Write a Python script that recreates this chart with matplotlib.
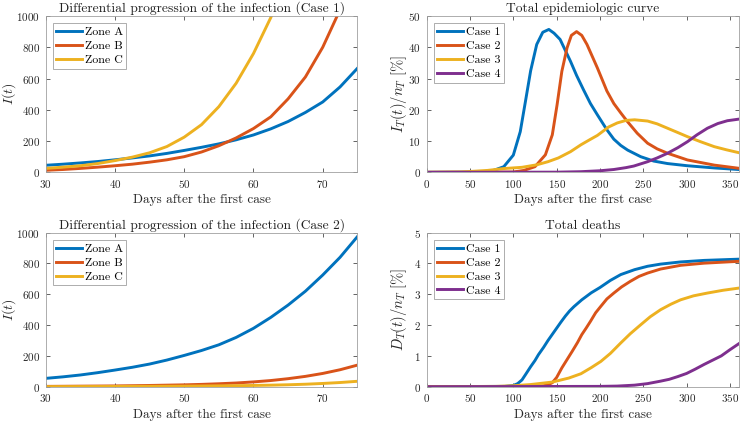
import numpy as np
import matplotlib
matplotlib.use("Agg")
import matplotlib.pyplot as plt

plt.rcParams['font.family'] = 'cmr10'
plt.rcParams['mathtext.fontset'] = 'cm'
plt.rcParams['axes.formatter.use_mathtext'] = True

# MATLAB default colours
colors = ['#0072BD', '#D95319', '#EDB120', '#7E2F8E']

zone_labels = ['Zone A', 'Zone B', 'Zone C']
case_labels = ['Case 1', 'Case 2', 'Case 3', 'Case 4']

# --- infected per zone, days 30-75 (read every 2.5 days) ---
zone_days = [30, 32.5, 35, 37.5, 40, 42.5, 45, 47.5, 50, 52.5, 55, 57.5, 60, 62.5, 65, 67.5, 70, 72.5, 75]

# Case 1
c1_a_vals = [45, 52, 60, 69, 80, 92, 105, 121, 140, 160, 182, 208, 239, 278, 325, 383, 450, 546, 665]
c1_b_vals = [13, 18, 25, 33, 42, 52, 65, 80, 100, 130, 170, 220, 280, 355, 470, 610, 800, 1040, 1350]
c1_c_vals = [25, 33, 42, 56, 75, 97, 125, 165, 225, 305, 420, 570, 760, 990, 1280, 1650, 2100, 2700, 3400]

# Case 2
c2_a_vals = [54, 64, 76, 91, 108, 126, 147, 173, 203, 235, 272, 320, 379, 450, 530, 620, 725, 840, 974]
c2_b_vals = [2, 2.7, 3.5, 4.2, 5, 6.4, 8, 10, 12, 15, 19, 24, 31, 40, 52, 67, 86, 110, 140]
c2_c_vals = [0.5, 0.7, 1, 1.2, 1.5, 2, 2.5, 3, 3.5, 4.4, 5.5, 6.6, 8, 10, 12.5, 16, 21, 27, 35]

# --- total epidemiologic curve I_T/n_T [%] ---
epi1_days = [0, 60, 77, 89, 100, 108, 114, 120, 127, 134, 141, 147, 154, 160, 166, 173,
             181, 189, 197, 208, 216, 224, 232, 247, 262, 278, 301, 332, 360]
epi1_vals = [0, 0.05, 0.6, 1.8, 5.5, 13, 22.7, 32.5, 40.9, 44.8, 45.7, 44.5, 42.5, 39, 35.5, 31,
             26.4, 22, 18.4, 13.6, 10.6, 8.6, 7.1, 5.0, 3.6, 2.8, 2.1, 1.4, 0.9]
epi2_days = [0, 100, 112, 125, 137, 145, 150.5, 156, 162, 167, 173, 179, 185, 197, 208, 216,
             224, 231.5, 243, 255, 266, 278, 301, 332, 360]
epi2_vals = [0, 0.1, 0.6, 1.8, 5.6, 12, 21.6, 32.3, 39.8, 43.8, 45, 43.8, 40.9, 33.4, 26, 22,
             19, 16.3, 12.5, 9.3, 7.5, 6.1, 3.95, 2.3, 1.3]
epi3_days = [0, 40, 70, 89, 110, 127, 140, 152, 166, 178, 188, 197, 210, 220, 230, 240,
             255, 266, 278, 290, 301, 316, 332, 346, 360]
epi3_vals = [0, 0.1, 0.6, 1.2, 1.6, 2.4, 3.4, 4.6, 6.6, 8.8, 10.4, 11.8, 14.5, 15.8, 16.6, 16.8,
             16.4, 15.5, 14.1, 12.7, 11.4, 9.8, 8.2, 7.2, 6.3]
epi4_days = [0, 150, 178, 200, 216, 230, 239, 255, 266, 278, 290, 301, 312, 324, 336, 347, 360]
epi4_vals = [0, 0.05, 0.2, 0.5, 0.9, 1.5, 2.0, 3.4, 4.6, 6.1, 7.9, 9.8, 12, 14.1, 15.6, 16.5, 17]

# --- total deaths D_T/n_T [%] ---
d1_days = [0, 90, 100, 105, 110, 114, 120, 125, 129, 135, 140, 145, 150, 155, 160, 165, 170,
           179, 190, 200, 212, 224, 240, 255, 270, 293, 320, 360]
d1_vals = [0, 0.01, 0.04, 0.1, 0.22, 0.39, 0.65, 0.85, 1.04, 1.28, 1.5, 1.7, 1.9, 2.1, 2.29, 2.46, 2.6,
           2.82, 3.05, 3.22, 3.45, 3.64, 3.8, 3.91, 3.98, 4.05, 4.1, 4.14]
d2_days = [0, 125, 135, 140, 145, 150, 156, 162, 168, 174, 179, 184, 189, 195, 201, 208, 216,
           225, 235, 245, 255, 270, 293, 320, 360]
d2_vals = [0, 0.005, 0.03, 0.06, 0.13, 0.3, 0.61, 0.88, 1.15, 1.43, 1.69, 1.9, 2.12, 2.4, 2.61, 2.85, 3.04,
           3.24, 3.42, 3.58, 3.69, 3.82, 3.94, 4.01, 4.07]
d3_days = [0, 80, 100, 120, 145, 164, 178, 190, 201, 212, 224, 235, 247, 258, 270, 282,
           293, 308, 324, 342, 360]
d3_vals = [0, 0.01, 0.03, 0.07, 0.15, 0.28, 0.42, 0.62, 0.82, 1.08, 1.42, 1.72, 2.01, 2.27, 2.5, 2.68,
           2.82, 2.95, 3.04, 3.13, 3.2]
d4_days = [0, 200, 220, 240, 255, 270, 280, 290, 300, 310, 320, 330, 340, 350, 360]
d4_vals = [0, 0.01, 0.02, 0.05, 0.1, 0.18, 0.24, 0.33, 0.43, 0.57, 0.72, 0.86, 1.0, 1.2, 1.39]

axcol = '#262626'
xlab = 'Days after the first case'


def style(ax):
    ax.tick_params(direction='in', top=True, right=True, length=3, width=0.5,
                   colors=axcol, labelsize=8, pad=4)
    for s in ax.spines.values():
        s.set_color('#a0a0a0')
        s.set_linewidth(0.6)


def legend(ax):
    leg = ax.legend(loc='upper left', fancybox=False, framealpha=1, edgecolor='#a0a0a0',
                    fontsize=8.6, handlelength=2.1, handletextpad=0.25, borderpad=0.3,
                    labelspacing=0.3, borderaxespad=0.6)
    leg.get_frame().set_linewidth(0.6)


def draw(ax, xs, ys, labels):
    for x, y, c, l in zip(xs, ys, colors, labels):
        ax.plot(x, y, color=c, lw=2.1, label=l, solid_joinstyle='round')


fig = plt.figure(figsize=(7.4, 4.21), dpi=100)
ax1 = fig.add_axes([0.0618, 0.5907, 0.4211, 0.3713])
ax2 = fig.add_axes([0.5766, 0.5907, 0.4215, 0.3713])
ax3 = fig.add_axes([0.0618, 0.0815, 0.4211, 0.3658])
ax4 = fig.add_axes([0.5766, 0.0815, 0.4215, 0.3658])

draw(ax1, [zone_days] * 3, [c1_a_vals, c1_b_vals, c1_c_vals], zone_labels)
ax1.set_title('Differential progression of the infection (Case 1)', fontsize=9.7, color='#222222', pad=3)

draw(ax3, [zone_days] * 3, [c2_a_vals, c2_b_vals, c2_c_vals], zone_labels)
ax3.set_title('Differential progression of the infection (Case 2)', fontsize=9.7, color='#222222', pad=3)

for ax in (ax1, ax3):
    ax.set_xlim(30, 75)
    ax.set_ylim(0, 1000)
    ax.set_xticks([30, 40, 50, 60, 70])
    ax.set_yticks([0, 200, 400, 600, 800, 1000])
    ax.set_ylabel(r'$I(t)$', fontsize=10, color=axcol)
    ax.yaxis.set_label_coords(-0.09, 0.5)

draw(ax2, [epi1_days, epi2_days, epi3_days, epi4_days],
     [epi1_vals, epi2_vals, epi3_vals, epi4_vals], case_labels)
ax2.set_ylim(0, 50)
ax2.set_yticks([0, 10, 20, 30, 40, 50])
ax2.set_ylabel(r'$I_T(t)/n_T\ [\%]$', fontsize=10.5, color=axcol)
ax2.set_title('Total epidemiologic curve', fontsize=9.7, color='#222222', pad=3)

draw(ax4, [d1_days, d2_days, d3_days, d4_days],
     [d1_vals, d2_vals, d3_vals, d4_vals], case_labels)
ax4.set_ylim(0, 5)
ax4.set_yticks([0, 1, 2, 3, 4, 5])
ax4.set_ylabel(r'$D_T(t)/n_T\ [\%]$', fontsize=10.5, color=axcol)
ax4.set_title('Total deaths', fontsize=9.7, color='#222222', pad=3)

for ax in (ax2, ax4):
    ax.set_xlim(0, 360)
    ax.set_xticks([0, 50, 100, 150, 200, 250, 300, 350])
    ax.yaxis.set_label_coords(-0.057, 0.5)

for ax in (ax1, ax2, ax3, ax4):
    ax.set_xlabel(xlab, fontsize=9.5, color=axcol, labelpad=3)
    style(ax)
    legend(ax)

fig.savefig('out.png', dpi=100)
